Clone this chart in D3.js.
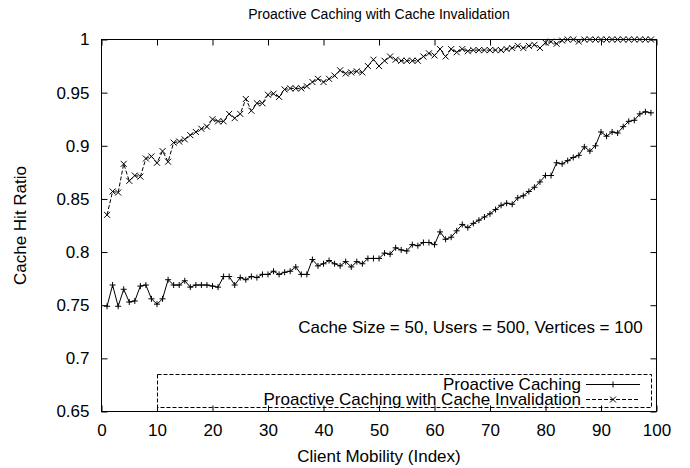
<!DOCTYPE html>
<html>
<head>
<meta charset="utf-8">
<script src="https://cdn.jsdelivr.net/npm/d3@7"></script>
<style>
  body { margin: 0; background: #fff; }
  text { font-family: "Liberation Sans", Arial, Helvetica, sans-serif; fill: #000; }
</style>
</head>
<body>
<script>
// values, client mobility index 1..99
var mobility = d3.range(1, 100);

var proactive = [
  0.749, 0.769, 0.749, 0.765, 0.753, 0.754, 0.768, 0.769, 0.756, 0.751,
  0.756, 0.774, 0.769, 0.769, 0.773, 0.767, 0.769, 0.769, 0.769, 0.768,
  0.767, 0.777, 0.777, 0.769, 0.776, 0.774, 0.777, 0.776, 0.779, 0.779,
  0.782, 0.779, 0.781, 0.782, 0.786, 0.779, 0.779, 0.793, 0.787, 0.789,
  0.792, 0.789, 0.787, 0.791, 0.786, 0.791, 0.789, 0.794, 0.794, 0.794,
  0.799, 0.798, 0.804, 0.802, 0.801, 0.807, 0.806, 0.809, 0.809, 0.807,
  0.819, 0.812, 0.814, 0.820, 0.826, 0.823, 0.827, 0.830, 0.833, 0.836,
  0.840, 0.844, 0.846, 0.845, 0.851, 0.853, 0.857, 0.861, 0.866, 0.872,
  0.872, 0.884, 0.883, 0.886, 0.889, 0.891, 0.899, 0.895, 0.900, 0.913,
  0.909, 0.913, 0.912, 0.918, 0.923, 0.924, 0.930, 0.932, 0.931
];

var invalidation = [
  0.835, 0.857, 0.856, 0.883, 0.867, 0.872, 0.871, 0.888, 0.890, 0.884,
  0.895, 0.885, 0.903, 0.904, 0.906, 0.910, 0.913, 0.916, 0.918, 0.925,
  0.923, 0.923, 0.930, 0.926, 0.930, 0.944, 0.933, 0.940, 0.940, 0.948,
  0.949, 0.946, 0.953, 0.954, 0.954, 0.954, 0.956, 0.960, 0.963, 0.960,
  0.963, 0.966, 0.971, 0.968, 0.969, 0.970, 0.969, 0.975, 0.981, 0.975,
  0.980, 0.984, 0.981, 0.980, 0.980, 0.980, 0.980, 0.984, 0.987, 0.985,
  0.991, 0.984, 0.991, 0.988, 0.991, 0.989, 0.990, 0.990, 0.990, 0.990,
  0.990, 0.990, 0.991, 0.992, 0.994, 0.992, 0.994, 0.995, 0.992, 0.997,
  0.998, 0.996, 0.999, 1.000, 1.000, 0.998, 1.000, 1.000, 1.000, 1.000,
  1.000, 1.000, 1.000, 1.000, 1.000, 1.000, 1.000, 1.000, 1.000
];

var xTicks = [0, 10, 20, 30, 40, 50, 60, 70, 80, 90, 100];
var yTicks = [0.65, 0.7, 0.75, 0.8, 0.85, 0.9, 0.95, 1];

var seriesNames = ["Proactive Caching", "Proactive Caching with Cache Invalidation"];

// set the dimensions and margins of the graph
var margin = {top: 39.5, right: 33.5, bottom: 56.5, left: 101.5},
    width = 690 - margin.left - margin.right,
    height = 468 - margin.top - margin.bottom;

var xScale = d3.scaleLinear().domain([0, 100]).range([0, width]);
var yScale = d3.scaleLinear().domain([0.65, 1]).range([height, 0]);

var svgRoot = d3.select("body").append("svg")
    .attr("width", 690)
    .attr("height", 468);

svgRoot.append("rect").attr("width", 690).attr("height", 468).attr("fill", "#fff");

var svg = svgRoot.append("g")
    .attr("transform", "translate(" + margin.left + "," + margin.top + ")");

var fmt = function(d) { return String(+d.toFixed(2)); };

// axes, ticks pointing inward, mirrored on top and right
function styleAxis(g) {
  g.select(".domain").remove();
  g.selectAll(".tick line").attr("stroke", "#000");
  g.selectAll("text").style("font-size", "17px").attr("fill", "#000");
}

svg.append("g")
    .attr("transform", "translate(0," + height + ")")
    .call(d3.axisBottom(xScale).tickValues(xTicks).tickSizeInner(-6).tickSizeOuter(0)
      .tickPadding(12).tickFormat(fmt))
    .call(styleAxis);

svg.append("g")
    .call(d3.axisTop(xScale).tickValues(xTicks).tickSizeInner(-6).tickSizeOuter(0)
      .tickFormat(""))
    .call(styleAxis);

svg.append("g")
    .call(d3.axisLeft(yScale).tickValues(yTicks).tickSizeInner(-6).tickSizeOuter(0)
      .tickPadding(12).tickFormat(fmt))
    .call(styleAxis);

svg.append("g")
    .attr("transform", "translate(" + width + ",0)")
    .call(d3.axisRight(yScale).tickValues(yTicks).tickSizeInner(-6).tickSizeOuter(0)
      .tickFormat(""))
    .call(styleAxis);

// frame
svg.append("rect")
    .attr("width", width)
    .attr("height", height)
    .attr("fill", "none")
    .attr("stroke", "#000")
    .attr("stroke-width", 1);

// lines
var dataA = mobility.map(function(m, i) { return {x: m, y: proactive[i]}; });
var dataB = mobility.map(function(m, i) { return {x: m, y: invalidation[i]}; });

var line = d3.line()
    .x(function(d) { return xScale(d.x); })
    .y(function(d) { return yScale(d.y); });

var plusPath = "M-3,0H3M0,-3V3";
var crossPath = "M-3,-3L3,3M-3,3L3,-3";

svg.append("path")
    .datum(dataA)
    .attr("fill", "none")
    .attr("stroke", "#000")
    .attr("stroke-width", 1)
    .attr("d", line);

svg.append("path")
    .datum(dataB)
    .attr("fill", "none")
    .attr("stroke", "#000")
    .attr("stroke-width", 1)
    .attr("stroke-dasharray", "4,2")
    .attr("d", line);

svg.selectAll(".markA")
    .data(dataA)
    .enter().append("path")
    .attr("class", "markA")
    .attr("transform", function(d) { return "translate(" + xScale(d.x) + "," + yScale(d.y) + ")"; })
    .attr("d", plusPath)
    .attr("stroke", "#000")
    .attr("fill", "none");

svg.selectAll(".markB")
    .data(dataB)
    .enter().append("path")
    .attr("class", "markB")
    .attr("transform", function(d) { return "translate(" + xScale(d.x) + "," + yScale(d.y) + ")"; })
    .attr("d", crossPath)
    .attr("stroke", "#000")
    .attr("fill", "none");

// annotation
svg.append("text")
    .attr("x", xScale(97.5))
    .attr("y", 293)
    .attr("text-anchor", "end")
    .style("font-size", "17px")
    .text("Cache Size = 50, Users = 500, Vertices = 100");

// legend
var legend = svgRoot.append("g");
legend.append("rect")
    .attr("x", 157.5)
    .attr("y", 374.5)
    .attr("width", 494)
    .attr("height", 33)
    .attr("fill", "none")
    .attr("stroke", "#000")
    .attr("stroke-dasharray", "4,2");

seriesNames.forEach(function(name, i) {
  var yy = 384 + i * 15;
  legend.append("text")
      .attr("x", 581)
      .attr("y", yy)
      .attr("dy", "0.35em")
      .attr("text-anchor", "end")
      .style("font-size", "17px")
      .text(name);
  legend.append("line")
      .attr("x1", 586).attr("x2", 640)
      .attr("y1", yy + 0.5).attr("y2", yy + 0.5)
      .attr("stroke", "#000")
      .attr("stroke-dasharray", i === 0 ? null : "4,2");
  legend.append("path")
      .attr("transform", "translate(613," + (yy + 0.5) + ")")
      .attr("d", i === 0 ? plusPath : crossPath)
      .attr("stroke", "#000")
      .attr("fill", "none");
});

// title and axis labels
svgRoot.append("text")
    .attr("x", margin.left + width / 2)
    .attr("y", 14)
    .attr("dy", "0.35em")
    .attr("text-anchor", "middle")
    .style("font-size", "14px")
    .text("Proactive Caching with Cache Invalidation");

svgRoot.append("text")
    .attr("x", margin.left + width / 2)
    .attr("y", 456)
    .attr("dy", "0.35em")
    .attr("text-anchor", "middle")
    .style("font-size", "17px")
    .text("Client Mobility (Index)");

svgRoot.append("text")
    .attr("transform", "translate(20," + (margin.top + height / 2) + ") rotate(-90)")
    .attr("dy", "0.35em")
    .attr("text-anchor", "middle")
    .style("font-size", "17px")
    .text("Cache Hit Ratio");
</script>
</body>
</html>
